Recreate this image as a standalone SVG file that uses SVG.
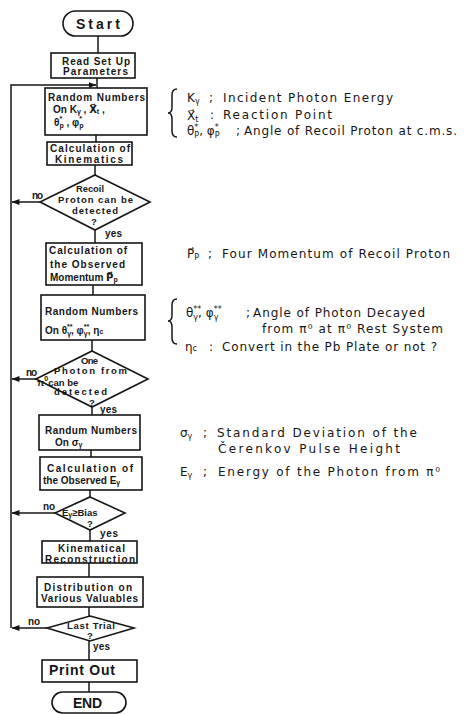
<svg xmlns="http://www.w3.org/2000/svg" width="466" height="714" viewBox="0 0 466 714">
<style>
.bx{fill:none;stroke:#161616;stroke-width:1.6}
.ln{fill:none;stroke:#161616;stroke-width:1.5}
.n{font-family:"Liberation Sans",Arial,sans-serif;font-weight:bold;font-size:10px;fill:#161616;dominant-baseline:central}
.d{font-size:9.5px}
.big{font-size:14px}
.dv{font-family:"DejaVu Sans",sans-serif}
.a{font-family:"DejaVu Sans","Liberation Sans",sans-serif;font-size:12px;fill:#161616;dominant-baseline:central}
.s{font-size:7px}
.s2{font-size:8px}
</style>
<defs>
<marker id="ah" markerWidth="8" markerHeight="6" refX="7.5" refY="3" orient="auto" markerUnits="userSpaceOnUse"><path d="M0,0 L8,3 L0,6 z" fill="#161616"/></marker>
</defs>
<rect width="466" height="714" fill="#fff"/>

<g id="connectors">
<line class="ln" x1="98" y1="36" x2="98" y2="53"/>
<line class="ln" x1="97" y1="78" x2="97" y2="88"/>
<polyline class="ln" points="11,628 11,85 96,85" marker-end="url(#ah)"/>
<line class="ln" x1="96" y1="135" x2="96" y2="142"/>
<line class="ln" x1="95" y1="165" x2="95" y2="175"/>
<line class="ln" x1="95" y1="230" x2="95" y2="243"/>
<line class="ln" x1="93" y1="285" x2="93" y2="295"/>
<line class="ln" x1="92" y1="340" x2="92" y2="351"/>
<line class="ln" x1="92" y1="407" x2="92" y2="415"/>
<line class="ln" x1="91" y1="450" x2="91" y2="457"/>
<line class="ln" x1="90" y1="490" x2="90" y2="497"/>
<line class="ln" x1="90" y1="530" x2="90" y2="541"/>
<line class="ln" x1="89" y1="563" x2="89" y2="577"/>
<line class="ln" x1="89" y1="607" x2="89" y2="616"/>
<line class="ln" x1="89" y1="641" x2="89" y2="660"/>
<line class="ln" x1="89" y1="682" x2="89" y2="692"/>
<line class="ln" x1="40" y1="202" x2="12" y2="202" marker-end="url(#ah)"/>
<line class="ln" x1="36" y1="379" x2="12" y2="379" marker-end="url(#ah)"/>
<line class="ln" x1="55" y1="513" x2="12" y2="513" marker-end="url(#ah)"/>
<line class="ln" x1="47" y1="628" x2="12" y2="628" marker-end="url(#ah)"/>
<text class="n" x="32" y="195" textLength="11" lengthAdjust="spacing">no</text>
<text class="n" x="105" y="233" textLength="17" lengthAdjust="spacing">yes</text>
<text class="n" x="26" y="372" textLength="11" lengthAdjust="spacing">no</text>
<text class="n" x="100" y="409" textLength="17" lengthAdjust="spacing">yes</text>
<text class="n" x="43" y="506" textLength="12" lengthAdjust="spacing">no</text>
<text class="n" x="100" y="533" textLength="18" lengthAdjust="spacing">yes</text>
<text class="n" x="28" y="621" textLength="12" lengthAdjust="spacing">no</text>
<text class="n" x="93" y="646" textLength="17" lengthAdjust="spacing">yes</text>
</g>

<g id="start">
<rect class="bx" x="63" y="11" width="70" height="25" rx="12.5"/>
<text class="n big" x="76" y="24" textLength="44" lengthAdjust="spacing">Start</text>
</g>

<g id="read-setup">
<rect class="bx" x="51" y="53" width="84" height="25"/>
<text class="n" x="62" y="61.5" textLength="68" lengthAdjust="spacing">Read Set Up</text>
<text class="n" x="63" y="71" textLength="65" lengthAdjust="spacing">Parameters</text>
</g>

<g id="random1">
<rect class="bx" x="45" y="88" width="102" height="47"/>
<text class="n" x="48" y="97" textLength="97" lengthAdjust="spacing">Random Numbers</text>
<text class="n" x="53" y="109">On K<tspan class="s" dy="2">γ</tspan><tspan dy="-2"> , </tspan><tspan class="dv" dy="0">X&#x20D7;</tspan><tspan class="s" dy="2">t</tspan><tspan dy="-2"> ,</tspan></text>
<text class="n" x="54" y="122">θ<tspan class="s" dy="-4">*</tspan><tspan class="s" dx="-2.7" dy="7">p</tspan><tspan dy="-3"> , φ</tspan><tspan class="s" dy="-4">*</tspan><tspan class="s" dx="-2.7" dy="7">p</tspan></text>
</g>

<g id="kinematics">
<rect class="bx" x="47" y="142" width="85" height="23"/>
<text class="n" x="50" y="148" textLength="80" lengthAdjust="spacing">Calculation of</text>
<text class="n" x="55" y="159" textLength="68" lengthAdjust="spacing">Kinematics</text>
</g>

<g id="recoil-detect">
<polygon class="bx" points="95,175 150,202 95,230 40,202"/>
<text class="n d" x="76" y="188" textLength="28" lengthAdjust="spacingAndGlyphs">Recoil</text>
<text class="n d" x="58" y="199.5" textLength="75" lengthAdjust="spacing">Proton can be</text>
<text class="n d" x="72" y="210.5" textLength="46" lengthAdjust="spacing">detected</text>
<text class="n d" x="91" y="221">?</text>
</g>

<g id="momentum">
<rect class="bx" x="46" y="243" width="96" height="42"/>
<text class="n" x="49" y="250" textLength="78" lengthAdjust="spacing">Calculation of</text>
<text class="n" x="50" y="264" textLength="75" lengthAdjust="spacing">the Observed</text>
<text class="n" x="50" y="277">Momentum  <tspan class="dv">P&#x20D7;</tspan><tspan class="s" dy="2">p</tspan></text>
</g>

<g id="random2">
<rect class="bx" x="41" y="295" width="104" height="45"/>
<text class="n" x="45" y="311" textLength="93" lengthAdjust="spacing">Random Numbers</text>
<text class="n" x="45" y="330">On θ<tspan class="s" dy="-4">**</tspan><tspan class="s" dx="-5.4" dy="7">γ</tspan><tspan dy="-3">,  φ</tspan><tspan class="s" dy="-4">**</tspan><tspan class="s" dx="-5.4" dy="7">γ</tspan><tspan dy="-3">, η</tspan><tspan class="s" dy="1">c</tspan></text>
</g>

<g id="photon-detect">
<polygon class="bx" points="92,351 148,379 92,407 36,379"/>
<text class="n d" x="81" y="360" textLength="17" lengthAdjust="spacing">One</text>
<text class="n d" x="54" y="370.5" textLength="73" lengthAdjust="spacing">Photon from</text>
<text class="n d" x="37" y="382">π<tspan class="s" dy="-4">0</tspan><tspan dy="4">can be</tspan></text>
<text class="n d" x="54" y="391.5" textLength="53" lengthAdjust="spacing">detected</text>
<text class="n d" x="89" y="402.5">?</text>
</g>

<g id="random3">
<rect class="bx" x="39" y="415" width="101" height="35"/>
<text class="n" x="45" y="430" textLength="92" lengthAdjust="spacing">Randum Numbers</text>
<text class="n" x="55" y="442">On   σ<tspan class="s" dy="2">γ</tspan></text>
</g>

<g id="energy">
<rect class="bx" x="40" y="457" width="102" height="33"/>
<text class="n" x="47" y="468" textLength="86" lengthAdjust="spacing">Calculation of</text>
<text class="n" x="43" y="480">the Observed  E<tspan class="s" dy="2">γ</tspan></text>
</g>

<g id="bias">
<polygon class="bx" points="90,497 125,513 90,530 55,513"/>
<text class="n d" x="62" y="512">E<tspan class="s" dy="2">γ</tspan><tspan dy="-2">≥Bias</tspan></text>
<text class="n d" x="87" y="523">?</text>
</g>

<g id="reconstruction">
<rect class="bx" x="42" y="541" width="95" height="22"/>
<text class="n" x="58" y="548" textLength="67" lengthAdjust="spacing">Kinematical</text>
<text class="n" x="45" y="559" textLength="90" lengthAdjust="spacing">Reconstruction</text>
</g>

<g id="distribution">
<rect class="bx" x="37" y="577" width="106" height="30"/>
<text class="n" x="44" y="587" textLength="88" lengthAdjust="spacing">Distribution on</text>
<text class="n" x="41" y="598" textLength="97" lengthAdjust="spacing">Various Valuables</text>
</g>

<g id="last-trial">
<polygon class="bx" points="90,616 134,628 90,641 47,628"/>
<text class="n d" x="67" y="625.5" textLength="48" lengthAdjust="spacing">Last Trial</text>
<text class="n d" x="87" y="635">?</text>
</g>

<g id="print-out">
<rect class="bx" x="42" y="660" width="95" height="22"/>
<text class="n big" x="49" y="670" textLength="66" lengthAdjust="spacing">Print Out</text>
</g>

<g id="end">
<rect class="bx" x="52" y="692" width="74" height="21" rx="10.5"/>
<text class="n big" x="73" y="703" textLength="29" lengthAdjust="spacing">END</text>
</g>

<g id="annotations">
<path class="ln" d="M177,89 Q172,89 172,95 L172,107 Q172,113 168,113 Q172,113 172,119 L172,131 Q172,137 177,137"/>
<text class="a" x="187" y="98">K<tspan class="s2" dy="3">γ</tspan></text>
<text class="a" x="209" y="98">;</text>
<text class="a" x="223" y="98" textLength="170" lengthAdjust="spacing">Incident Photon Energy</text>
<text class="a" x="187" y="116">X&#x20D7;<tspan class="s2" dy="3">t</tspan></text>
<text class="a" x="210" y="115">:</text>
<text class="a" x="223" y="115" textLength="109" lengthAdjust="spacing">Reaction Point</text>
<text class="a" x="187" y="131">θ<tspan class="s2" dy="-4">*</tspan><tspan class="s2" dx="-4" dy="8">P</tspan><tspan dy="-4">, φ</tspan><tspan class="s2" dy="-4">*</tspan><tspan class="s2" dx="-4" dy="8">P</tspan></text>
<text class="a" x="236" y="131">;</text>
<text class="a" x="244" y="131" textLength="213" lengthAdjust="spacing">Angle of Recoil Proton at c.m.s.</text>

<text class="a" x="187" y="254">P&#x20D7;<tspan class="s2" dy="3">P</tspan></text>
<text class="a" x="208" y="254">;</text>
<text class="a" x="222" y="254" textLength="228" lengthAdjust="spacing">Four Momentum of Recoil Proton</text>

<path class="ln" d="M177,299 Q172,299 172,305 L172,315 Q172,321 168,321 Q172,321 172,327 L172,338 Q172,344 177,344"/>
<text class="a" x="186" y="313">θ<tspan class="s2" dy="-4">**</tspan><tspan class="s2" dx="-8" dy="8">γ</tspan><tspan dy="-4">, φ</tspan><tspan class="s2" dy="-4">**</tspan><tspan class="s2" dx="-8" dy="8">γ</tspan></text>
<text class="a" x="246" y="313">;</text>
<text class="a" x="253" y="313" textLength="172" lengthAdjust="spacing">Angle of Photon Decayed</text>
<text class="a" x="262" y="329" textLength="181" lengthAdjust="spacing">from π⁰ at π⁰ Rest System</text>
<text class="a" x="185" y="347">η<tspan class="s2" dy="1">c</tspan></text>
<text class="a" x="209" y="347">:</text>
<text class="a" x="222" y="347" textLength="215" lengthAdjust="spacing">Convert in the Pb Plate or not ?</text>

<text class="a" x="180" y="433">σ<tspan class="s2" dy="3">γ</tspan></text>
<text class="a" x="203" y="433">;</text>
<text class="a" x="217" y="433" textLength="200" lengthAdjust="spacing">Standard Deviation of the</text>
<text class="a" x="218" y="449" textLength="182" lengthAdjust="spacing">Čerenkov Pulse Height</text>

<text class="a" x="180" y="472">E<tspan class="s2" dy="3">γ</tspan></text>
<text class="a" x="203" y="472">;</text>
<text class="a" x="218" y="472" textLength="222" lengthAdjust="spacing">Energy of the Photon from π⁰</text>
</g>
</svg>
